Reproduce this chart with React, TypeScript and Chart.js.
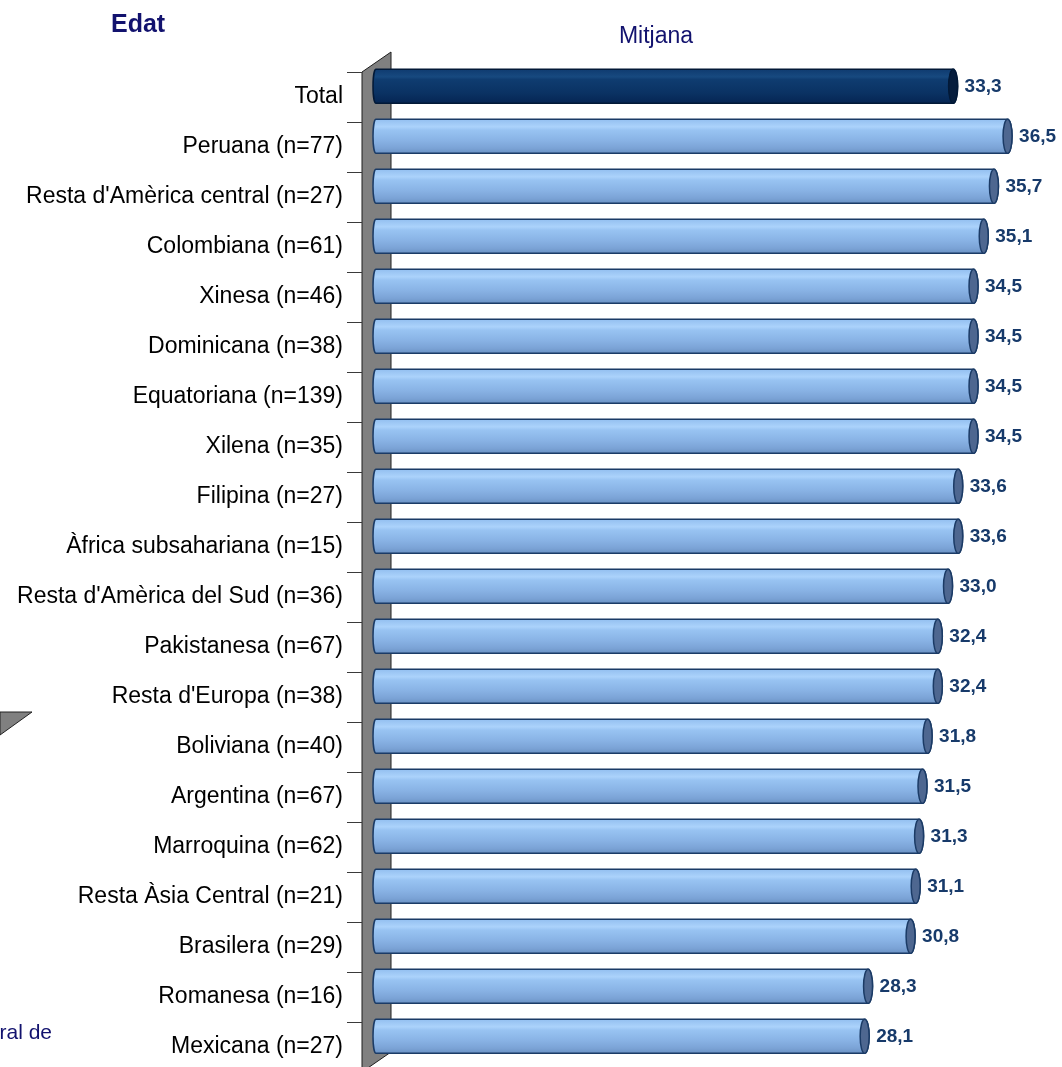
import React, { useEffect, useRef } from 'react';
import { Chart, registerables } from 'chart.js';

Chart.register(...registerables);

// ---- data ----
const categories = [
  'Total',
  'Peruana (n=77)',
  "Resta d'Amèrica central (n=27)",
  'Colombiana (n=61)',
  'Xinesa (n=46)',
  'Dominicana (n=38)',
  'Equatoriana (n=139)',
  'Xilena (n=35)',
  'Filipina (n=27)',
  'Àfrica subsahariana (n=15)',
  "Resta d'Amèrica del Sud (n=36)",
  'Pakistanesa (n=67)',
  "Resta d'Europa (n=38)",
  'Boliviana (n=40)',
  'Argentina (n=67)',
  'Marroquina (n=62)',
  'Resta Àsia Central (n=21)',
  'Brasilera (n=29)',
  'Romanesa (n=16)',
  'Mexicana (n=27)',
];
const meanAge = [
  33.3, 36.5, 35.7, 35.1, 34.5, 34.5, 34.5, 34.5, 33.6, 33.6,
  33.0, 32.4, 32.4, 31.8, 31.5, 31.3, 31.1, 30.8, 28.3, 28.1,
];
const titleText = 'Edat';
const seriesName = 'Mitjana';
const footnoteFragment = 'ral de';
const highlightCategory = 'Total';

// ---- styling ----
const FONT = "'Liberation Sans', Arial, Helvetica, sans-serif";
const NAVY = '#12126e';
const VALUE_COLOR = '#173a6a';
const FRONT_DY = 10.7; // front plane offset (3D)
const FRONT_DX = 11;
const DEPTH_X = 29;
const DEPTH_Y = 20;

const fmt = (v: number) => v.toFixed(1).replace('.', ',');

const decorPlugin = {
  id: 'decor3d',
  beforeDatasetsDraw(chart: any) {
    const { ctx, chartArea: ca } = chart;
    const n = categories.length;
    const h = (ca.bottom - ca.top) / n;
    const fx = ca.left - FRONT_DX;
    const fTop = ca.top + FRONT_DY;
    const fBot = ca.bottom + FRONT_DY;
    ctx.save();
    // side wall
    ctx.beginPath();
    ctx.moveTo(fx, fTop);
    ctx.lineTo(fx + DEPTH_X, fTop - DEPTH_Y);
    ctx.lineTo(fx + DEPTH_X, fBot - DEPTH_Y);
    ctx.lineTo(fx, fBot);
    ctx.closePath();
    ctx.fillStyle = '#808080';
    ctx.fill();
    ctx.lineWidth = 1;
    ctx.strokeStyle = '#1e1e1e';
    ctx.stroke();
    // tick marks
    ctx.strokeStyle = '#3a3a3a';
    ctx.lineWidth = 1;
    for (let j = 0; j <= n; j++) {
      const y = Math.round(fTop + j * h) + 0.5;
      ctx.beginPath();
      ctx.moveTo(fx - 15, y);
      ctx.lineTo(fx, y);
      ctx.stroke();
    }
    // stray elements from the source page
    ctx.beginPath();
    ctx.moveTo(0, 712);
    ctx.lineTo(32, 712);
    ctx.lineTo(0, 735);
    ctx.closePath();
    ctx.fillStyle = '#808080';
    ctx.fill();
    ctx.strokeStyle = '#222';
    ctx.stroke();
    ctx.restore();
  },
  afterDatasetsDraw(chart: any) {
    const { ctx, chartArea: ca } = chart;
    const meta = chart.getDatasetMeta(0);
    ctx.save();
    meta.data.forEach((el: any, i: number) => {
      const { x, y, height } = el.getProps(['x', 'y', 'height'], true);
      const L = ca.left;
      const R = x;
      const H = height;
      const T = y - H / 2;
      const B = y + H / 2;
      const rxL = 3;
      const rxR = 4.5;
      const dark = categories[i] === highlightCategory;
      const g = ctx.createLinearGradient(0, T, 0, B);
      if (dark) {
        g.addColorStop(0, '#0f3b70');
        g.addColorStop(0.22, '#17497f');
        g.addColorStop(0.3, '#0f3c70');
        g.addColorStop(0.7, '#0a3263');
        g.addColorStop(1, '#052553');
      } else {
        g.addColorStop(0, '#93bff0');
        g.addColorStop(0.22, '#abd2fb');
        g.addColorStop(0.32, '#98c3f2');
        g.addColorStop(0.6, '#8ab4e6');
        g.addColorStop(0.85, '#7ba3d6');
        g.addColorStop(1, '#6b92c4');
      }
      ctx.beginPath();
      ctx.moveTo(L + rxL, T);
      ctx.lineTo(R, T);
      ctx.ellipse(R, y, rxR, H / 2, 0, -Math.PI / 2, Math.PI / 2);
      ctx.lineTo(L + rxL, B);
      ctx.ellipse(L + rxL, y, rxL, H / 2, 0, Math.PI / 2, Math.PI * 1.5);
      ctx.closePath();
      ctx.fillStyle = g;
      ctx.fill();
      ctx.lineWidth = 1.5;
      ctx.strokeStyle = dark ? '#021937' : '#1b3b66';
      ctx.stroke();
      // end cap
      ctx.beginPath();
      ctx.ellipse(R, y, rxR, H / 2, 0, 0, Math.PI * 2);
      ctx.fillStyle = dark ? '#061d3d' : '#4e6790';
      ctx.fill();
      ctx.stroke();
      // value label
      ctx.fillStyle = VALUE_COLOR;
      ctx.font = `bold 19px ${FONT}`;
      ctx.textAlign = 'left';
      ctx.textBaseline = 'middle';
      ctx.fillText(fmt(meanAge[i]), R + rxR + 7, y);
    });
    // titles
    ctx.fillStyle = NAVY;
    ctx.textBaseline = 'middle';
    ctx.font = `bold 25px ${FONT}`;
    ctx.textAlign = 'left';
    ctx.fillText(titleText, 111, 25);
    ctx.font = `23px ${FONT}`;
    ctx.textAlign = 'center';
    ctx.fillText(seriesName, 656, 37);
    ctx.font = `21px ${FONT}`;
    ctx.textAlign = 'right';
    ctx.fillText(footnoteFragment, 52, 1033);
    ctx.restore();
  },
};

export default function App() {
  const ref = useRef<HTMLCanvasElement>(null);
  useEffect(() => {
    const chart = new Chart(ref.current as HTMLCanvasElement, {
      type: 'bar',
      data: {
        labels: categories,
        datasets: [
          {
            label: seriesName,
            data: meanAge,
            base: -0.8,
            backgroundColor: 'rgba(0,0,0,0)',
            borderWidth: 0,
            barPercentage: 0.68,
            categoryPercentage: 1,
          } as any,
        ],
      },
      options: {
        indexAxis: 'y',
        responsive: false,
        animation: false,
        devicePixelRatio: 1,
        layout: { padding: { top: 61.3, bottom: 5.7, left: 0, right: 0 } },
        plugins: {
          legend: { display: false },
          tooltip: { enabled: false },
          title: { display: false },
        },
        scales: {
          x: {
            type: 'linear',
            display: false,
            min: -0.8,
            max: 39.7,
          },
          y: {
            type: 'category',
            grid: { display: false, drawTicks: false },
            border: { display: false },
            afterFit: (scale: any) => {
              scale.width = 373;
              scale.paddingTop = 0;
              scale.paddingBottom = 0;
            },
            ticks: {
              autoSkip: false,
              padding: 30,
              labelOffset: 10.7,
              color: '#000000',
              font: { family: FONT, size: 23 },
            },
          },
        },
      },
      plugins: [decorPlugin],
    } as any);
    return () => chart.destroy();
  }, []);
  return (
    <div
      style={{
        position: 'absolute',
        left: 0,
        top: 0,
        width: 1062,
        height: 1067,
        overflow: 'hidden',
        background: '#ffffff',
      }}
    >
      <canvas ref={ref} width={1062} height={1067} style={{ display: 'block' }} />
    </div>
  );
}
